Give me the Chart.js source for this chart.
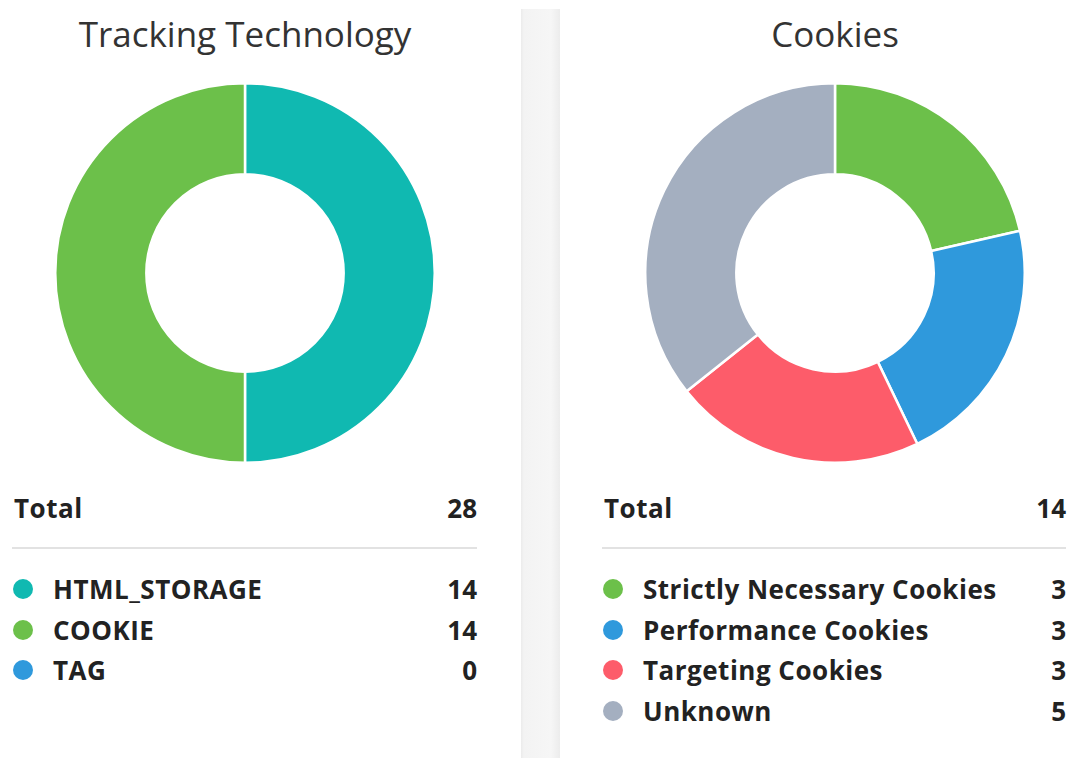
<!DOCTYPE html>
<html>
<head>
<meta charset="utf-8">
<script src="https://cdn.jsdelivr.net/npm/chart.js@4"></script>
<style>
  body { margin: 0; width: 1072px; height: 758px; background: #fff; position: relative; overflow: hidden;
         font-family: "Open Sans", sans-serif; color: #222; }
  .strip { position: absolute; left: 521px; top: 9px; width: 39px; height: 760px;
           background: linear-gradient(to right, #ebebeb 0px, #f3f3f3 3px, #f6f6f6 30px, #ececec 39px); }
  .title { position: absolute; top: 10px; width: 440px; text-align: center; font-size: 35px; color: #333; line-height: 48px; }
  .chart { position: absolute; top: 82px; width: 382px; height: 382px; }
  .row { position: absolute; height: 40px; line-height: 40px; font-weight: 700; font-size: 26px; letter-spacing: 0.5px; }
  .row .v { position: absolute; right: 0; top: 0; letter-spacing: 0; }
  .row .dot { position: absolute; left: 1px; top: 10px; width: 20px; height: 20px; border-radius: 50%; }
  .row .l { position: absolute; left: 41px; top: 0; white-space: nowrap; }
  .rule { position: absolute; top: 547px; height: 0; border-top: 2px solid #e2e2e2; }
</style>
</head>
<body>
<div class="strip"></div>

<div class="title" style="left:25px">Tracking Technology</div>
<div class="title" style="left:615px">Cookies</div>

<div class="chart" style="left:54px"><canvas id="c1"></canvas></div>
<div class="chart" style="left:644px"><canvas id="c2"></canvas></div>

<div id="p1"></div>
<div id="p2"></div>

<script>
var trackLabels = ['HTML_STORAGE', 'COOKIE', 'TAG'];
var trackValues = [14, 14, 0];
var trackColors = ['#10b9b1', '#6cc04a', '#2f99dc'];

var cookieLabels = ['Strictly Necessary Cookies', 'Performance Cookies', 'Targeting Cookies', 'Unknown'];
var cookieValues = [3, 3, 3, 5];
var cookieColors = ['#6cc04a', '#2f99dc', '#fd5c6a', '#a4afc0'];

function makeDoughnut(id, labels, values, colors) {
  var ctx = document.getElementById(id).getContext('2d');
  return new Chart(ctx, {
    type: 'doughnut',
    data: {
      labels: labels,
      datasets: [{ data: values, backgroundColor: colors, borderColor: '#fff', borderWidth: 2.5 }]
    },
    options: {
      responsive: true,
      maintainAspectRatio: false,
      animation: false,
      cutout: '52%',
      plugins: { legend: { display: false }, tooltip: { enabled: false } }
    }
  });
}

function makeLegend(id, left, width, labels, values, colors) {
  var box = document.getElementById(id);
  var total = 0;
  for (var i = 0; i < values.length; i++) total += values[i];
  var html = '<div class="row" style="left:' + left + 'px;width:' + width + 'px;top:488px">' +
             '<span class="l" style="left:2px">Total</span><span class="v">' + total + '</span></div>';
  html += '<div class="rule" style="left:' + left + 'px;width:' + width + 'px"></div>';
  for (var j = 0; j < labels.length; j++) {
    html += '<div class="row" style="left:' + left + 'px;width:' + width + 'px;top:' + (569 + j * 40.5) + 'px">' +
            '<span class="dot" style="background:' + colors[j] + '"></span>' +
            '<span class="l">' + labels[j] + '</span><span class="v">' + values[j] + '</span></div>';
  }
  box.innerHTML = html;
}

makeDoughnut('c1', trackLabels, trackValues, trackColors);
makeDoughnut('c2', cookieLabels, cookieValues, cookieColors);
makeLegend('p1', 12, 465, trackLabels, trackValues, trackColors);
makeLegend('p2', 602, 464, cookieLabels, cookieValues, cookieColors);
</script>
</body>
</html>
